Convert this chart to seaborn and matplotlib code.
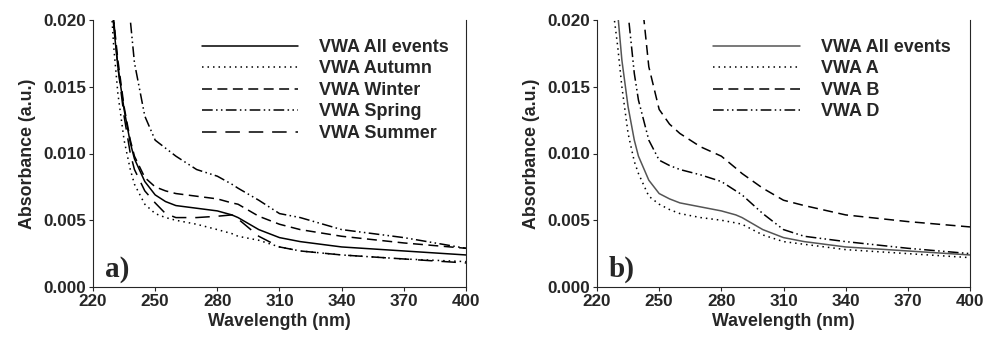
import matplotlib
matplotlib.use("Agg")
import matplotlib.pyplot as plt
import seaborn as sns
import pandas as pd
from matplotlib.ticker import FormatStrFormatter

# wavelengths (nm) and absorbance values
wl = [226, 228, 230, 232, 235, 238, 240, 245, 250, 255, 260, 270, 280, 287, 290, 300, 310, 320, 340, 370, 400]

# panel a) seasons
all_events = [0.030, 0.024, 0.0195, 0.0165, 0.0133, 0.0108, 0.0096, 0.0079, 0.0069, 0.0064, 0.0061, 0.0059, 0.0057, 0.0054, 0.0052, 0.0043, 0.0037, 0.0034, 0.0030, 0.0027, 0.0024]
autumn = [0.028, 0.023, 0.0180, 0.0145, 0.0110, 0.0088, 0.0077, 0.0062, 0.0055, 0.0052, 0.0050, 0.0047, 0.0043, 0.0040, 0.0038, 0.0035, 0.0030, 0.0027, 0.0024, 0.0021, 0.0019]
winter = [0.030, 0.025, 0.0200, 0.0170, 0.0135, 0.0110, 0.0098, 0.0082, 0.0075, 0.0072, 0.0070, 0.0068, 0.0066, 0.0063, 0.0062, 0.0053, 0.0047, 0.0043, 0.0038, 0.0033, 0.0029]
spring = [0.040, 0.036, 0.032, 0.028, 0.024, 0.0200, 0.0168, 0.0128, 0.0110, 0.0104, 0.0098, 0.0088, 0.0083, 0.0077, 0.0074, 0.0065, 0.0055, 0.0052, 0.0043, 0.0037, 0.0029]
summer = [0.030, 0.025, 0.0200, 0.0165, 0.0128, 0.0100, 0.0088, 0.0072, 0.0063, 0.0055, 0.0052, 0.0052, 0.0053, 0.0054, 0.0051, 0.0038, 0.0030, 0.0027, 0.0024, 0.0021, 0.0018]

# panel b) groups
b_all = [0.032, 0.026, 0.0205, 0.0170, 0.0135, 0.0110, 0.0098, 0.0080, 0.0070, 0.0066, 0.0063, 0.0060, 0.0057, 0.0054, 0.0052, 0.0043, 0.0037, 0.0034, 0.0030, 0.0027, 0.0024]
b_a = [0.026, 0.0205, 0.0180, 0.0150, 0.0115, 0.0094, 0.0085, 0.0068, 0.0062, 0.0058, 0.0055, 0.0052, 0.0050, 0.0048, 0.0047, 0.0039, 0.0034, 0.0032, 0.0028, 0.0025, 0.0022]
b_b = [0.045, 0.042, 0.039, 0.036, 0.032, 0.027, 0.0240, 0.0165, 0.0133, 0.0122, 0.0115, 0.0105, 0.0098, 0.0089, 0.0085, 0.0074, 0.0065, 0.0061, 0.0054, 0.0049, 0.0045]
b_d = [0.040, 0.034, 0.030, 0.026, 0.0205, 0.0160, 0.0140, 0.0110, 0.0095, 0.0091, 0.0088, 0.0084, 0.0079, 0.0072, 0.0069, 0.0055, 0.0043, 0.0038, 0.0034, 0.0029, 0.0025]

DOT = (0, (1, 2.6))
DASH = (0, (6.5, 3.6))
DASHDOTDOT = (0, (7, 2.2, 1, 2.2, 1, 2.2))
LONGDASH = (0, (9.5, 5.8))

sns.set_style("ticks")
plt.rcParams["font.family"] = ["Liberation Sans", "DejaVu Sans"]
plt.rcParams["font.weight"] = "bold"

fig = plt.figure(figsize=(9.84, 3.39), dpi=100)
ax1 = fig.add_axes([93 / 984, 1 - 287 / 339, 373 / 984, 267 / 339])
ax2 = fig.add_axes([597 / 984, 1 - 287 / 339, 373 / 984, 267 / 339])

panel_a = [
    ("VWA All events", all_events, "-", "black"),
    ("VWA Autumn", autumn, DOT, "black"),
    ("VWA Winter", winter, DASH, "black"),
    ("VWA Spring", spring, DASHDOTDOT, "black"),
    ("VWA Summer", summer, LONGDASH, "black"),
]
panel_b = [
    ("VWA All events", b_all, "-", "#555555"),
    ("VWA A", b_a, DOT, "black"),
    ("VWA B", b_b, DASH, "black"),
    ("VWA D", b_d, DASHDOTDOT, "black"),
]

for ax, series, tag, anchor_x, hlen in [(ax1, panel_a, "a)", 0.249, 5.3),
                                         (ax2, panel_b, "b)", 0.268, 4.8)]:
    for name, vals, ls, col in series:
        df = pd.DataFrame({"wl": wl, "abs": vals})
        sns.lineplot(data=df, x="wl", y="abs", ax=ax, color=col, linestyle=ls,
                     linewidth=1.1, label=name)
    ax.set_xlim(220, 400)
    ax.set_ylim(0, 0.020)
    ax.set_xticks([220, 250, 280, 310, 340, 370, 400])
    ax.set_yticks([0, 0.005, 0.010, 0.015, 0.020])
    ax.yaxis.set_major_formatter(FormatStrFormatter("%.3f"))
    ax.tick_params(labelsize=12.3, length=3, width=0.8, pad=2)
    for lab in ax.get_xticklabels() + ax.get_yticklabels():
        lab.set_fontweight("bold")
    ax.set_xlabel("Wavelength (nm)", fontsize=12.8, fontweight="bold", labelpad=3)
    ax.set_ylabel("Absorbance (a.u.)", fontsize=12.8, fontweight="bold", labelpad=5)
    ax.spines["top"].set_visible(False)
    for s in ["left", "bottom", "right"]:
        ax.spines[s].set_linewidth(0.8)
    ax.text(0.032, 0.04, tag, transform=ax.transAxes, fontsize=21, fontweight="bold",
            family=["Liberation Serif", "DejaVu Serif"])
    ax.legend(loc="upper left", bbox_to_anchor=(anchor_x, 0.99), frameon=False,
              handlelength=hlen, handletextpad=1.15, labelspacing=0.25,
              prop={"weight": "bold", "size": 13})

fig.savefig("out.png", dpi=100)
